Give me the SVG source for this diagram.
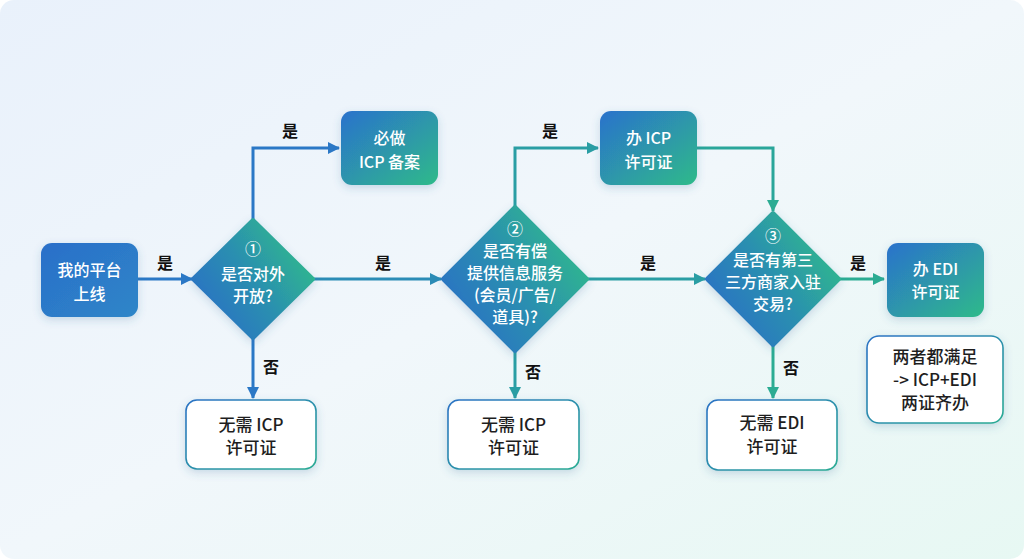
<svg xmlns="http://www.w3.org/2000/svg" width="1024" height="559" viewBox="0 0 1024 559">
<defs>
<linearGradient id="bg" x1="0" y1="0" x2="1" y2="1">
<stop offset="0" stop-color="#e9f1fb"/>
<stop offset="0.5" stop-color="#f1f7fb"/>
<stop offset="1" stop-color="#e7f8f3"/>
</linearGradient>
<linearGradient id="boxg" x1="0" y1="0" x2="1" y2="1">
<stop offset="0" stop-color="#2b72cc"/>
<stop offset="1" stop-color="#2fba8a"/>
</linearGradient>
<linearGradient id="bluebox" x1="0" y1="0" x2="1" y2="1">
<stop offset="0" stop-color="#2a6fc9"/>
<stop offset="1" stop-color="#2f86c8"/>
</linearGradient>
<linearGradient id="diag" x1="0" y1="0.85" x2="1" y2="0.2">
<stop offset="0" stop-color="#2a6cc8"/>
<stop offset="0.5" stop-color="#2b8fb0"/>
<stop offset="1" stop-color="#30be88"/>
</linearGradient>
<linearGradient id="strokeg" x1="0" y1="0" x2="1" y2="1">
<stop offset="0" stop-color="#2a72c4"/>
<stop offset="1" stop-color="#2bab94"/>
</linearGradient>
<filter id="sh" x="-20%" y="-20%" width="140%" height="150%">
<feDropShadow dx="0" dy="3" stdDeviation="4" flood-color="#3a6a9a" flood-opacity="0.22"/>
</filter>
<marker id="mA" viewBox="0 0 12 12" refX="11" refY="6" markerWidth="12" markerHeight="12" markerUnits="userSpaceOnUse" orient="auto"><path d="M0,0 L12,6 L0,12 z" fill="#2b78c6"/></marker>
<marker id="mB" viewBox="0 0 12 12" refX="11" refY="6" markerWidth="12" markerHeight="12" markerUnits="userSpaceOnUse" orient="auto"><path d="M0,0 L12,6 L0,12 z" fill="#2b8cb6"/></marker>
<marker id="mC" viewBox="0 0 12 12" refX="11" refY="6" markerWidth="12" markerHeight="12" markerUnits="userSpaceOnUse" orient="auto"><path d="M0,0 L12,6 L0,12 z" fill="#2a9ea4"/></marker>
<marker id="mD" viewBox="0 0 12 12" refX="11" refY="6" markerWidth="12" markerHeight="12" markerUnits="userSpaceOnUse" orient="auto"><path d="M0,0 L12,6 L0,12 z" fill="#2cac93"/></marker>
<style>
.wt{font-family:"Noto Sans CJK SC","Noto Sans",sans-serif;font-size:16px;font-weight:500;fill:#ffffff;text-anchor:middle}
.dt{font-family:"Noto Sans CJK SC","Noto Sans",sans-serif;font-size:17px;font-weight:500;fill:#1e1e1e;text-anchor:middle}
.lb{font-family:"Noto Sans CJK SC","Noto Sans",sans-serif;font-size:16px;font-weight:700;fill:#111111;text-anchor:middle}
.wbox{fill:#ffffff;stroke:url(#strokeg);stroke-width:1.6}
.ln{fill:none;stroke-width:3}
</style>
</defs>
<rect x="0" y="0" width="1024" height="559" rx="14" fill="url(#bg)"/>

<g id="connectors">
<path class="ln" d="M138,279 H192" stroke="#2b78c6" marker-end="url(#mA)"/>
<path class="ln" d="M253,221 V148 H339" stroke="#2b78c6" marker-end="url(#mA)"/>
<path class="ln" d="M253,338 V398" stroke="#2b78c6" marker-end="url(#mA)"/>
<path class="ln" d="M313,279 H441" stroke="#2b8cb6" marker-end="url(#mB)"/>
<path class="ln" d="M515,208 V148 H598" stroke="#2a9ea4" marker-end="url(#mC)"/>
<path class="ln" d="M515,351 V398" stroke="#2a9ea4" marker-end="url(#mC)"/>
<path class="ln" d="M587,279 H705" stroke="#2a9ea4" marker-end="url(#mC)"/>
<path class="ln" d="M697,148 H773 V211" stroke="#2aa69a" marker-end="url(#mD)"/>
<path class="ln" d="M839,279 H884" stroke="#2cac93" marker-end="url(#mD)"/>
<path class="ln" d="M773,345 V398" stroke="#2cac93" marker-end="url(#mD)"/>
<text class="lb" x="165" y="269">是</text>
<text class="lb" x="290" y="137">是</text>
<text class="lb" x="383" y="269">是</text>
<text class="lb" x="550" y="137">是</text>
<text class="lb" x="648" y="269">是</text>
<text class="lb" x="858" y="269">是</text>
<text class="lb" x="271" y="373">否</text>
<text class="lb" x="533" y="378">否</text>
<text class="lb" x="791" y="374">否</text>
</g>

<g id="start">
<rect x="41" y="243" width="97" height="74" rx="11" fill="url(#bluebox)" filter="url(#sh)"/>
<text class="wt" x="89.5" y="275.5" font-size="18.5">我的平台</text>
<text class="wt" x="89.5" y="300" font-size="18.5">上线</text>
</g>

<g id="icp-filing">
<rect x="341" y="111" width="97" height="74" rx="11" fill="url(#boxg)" filter="url(#sh)"/>
<text class="wt" x="389.5" y="144" font-size="17">必做</text>
<text class="wt" x="389.5" y="168" font-size="17">ICP 备案</text>
</g>

<g id="q1">
<path d="M253,220 L313,279 L253,338 L193,279 Z" fill="url(#diag)" stroke="url(#diag)" stroke-width="4" stroke-linejoin="round" filter="url(#sh)"/>
<text class="wt" x="253" y="255">①</text>
<text class="wt" x="253" y="280">是否对外</text>
<text class="wt" x="253" y="302">开放?</text>
</g>

<g id="no-icp-1">
<rect x="186" y="400" width="130" height="69" rx="11" class="wbox" filter="url(#sh)"/>
<text class="dt" x="251" y="431">无需 ICP</text>
<text class="dt" x="251" y="454">许可证</text>
</g>

<g id="q2">
<path d="M515,207 L587,279 L515,351 L443,279 Z" fill="url(#diag)" stroke="url(#diag)" stroke-width="4" stroke-linejoin="round" filter="url(#sh)"/>
<text class="wt" x="515" y="235">②</text>
<text class="wt" x="515" y="257">是否有偿</text>
<text class="wt" x="515" y="279">提供信息服务</text>
<text class="wt" x="515" y="301">(会员/广告/</text>
<text class="wt" x="515" y="323">道具)?</text>
</g>

<g id="icp-license">
<rect x="600" y="111" width="97" height="74" rx="11" fill="url(#boxg)" filter="url(#sh)"/>
<text class="wt" x="648.5" y="144" font-size="17">办 ICP</text>
<text class="wt" x="648.5" y="168" font-size="17">许可证</text>
</g>

<g id="no-icp-2">
<rect x="448" y="400" width="131" height="69" rx="11" class="wbox" filter="url(#sh)"/>
<text class="dt" x="513.5" y="431">无需 ICP</text>
<text class="dt" x="513.5" y="454">许可证</text>
</g>

<g id="q3">
<path d="M773,213 L839,279 L773,345 L707,279 Z" fill="url(#diag)" stroke="url(#diag)" stroke-width="4" stroke-linejoin="round" filter="url(#sh)"/>
<text class="wt" x="773" y="242">③</text>
<text class="wt" x="773" y="266">是否有第三</text>
<text class="wt" x="773" y="288">三方商家入驻</text>
<text class="wt" x="773" y="310">交易?</text>
</g>

<g id="edi-license">
<rect x="887" y="243" width="97" height="74" rx="11" fill="url(#boxg)" filter="url(#sh)"/>
<text class="wt" x="935.5" y="275" font-size="17">办 EDI</text>
<text class="wt" x="935.5" y="298" font-size="17">许可证</text>
</g>

<g id="no-edi">
<rect x="707" y="400" width="130" height="70" rx="11" class="wbox" filter="url(#sh)"/>
<text class="dt" x="772" y="429">无需 EDI</text>
<text class="dt" x="772" y="453">许可证</text>
</g>

<g id="note">
<rect x="867" y="336" width="136" height="87" rx="12" class="wbox" filter="url(#sh)"/>
<text class="dt" x="935" y="363">两者都满足</text>
<text class="dt" x="935" y="386">-&gt; ICP+EDI</text>
<text class="dt" x="935" y="409">两证齐办</text>
</g>
</svg>
